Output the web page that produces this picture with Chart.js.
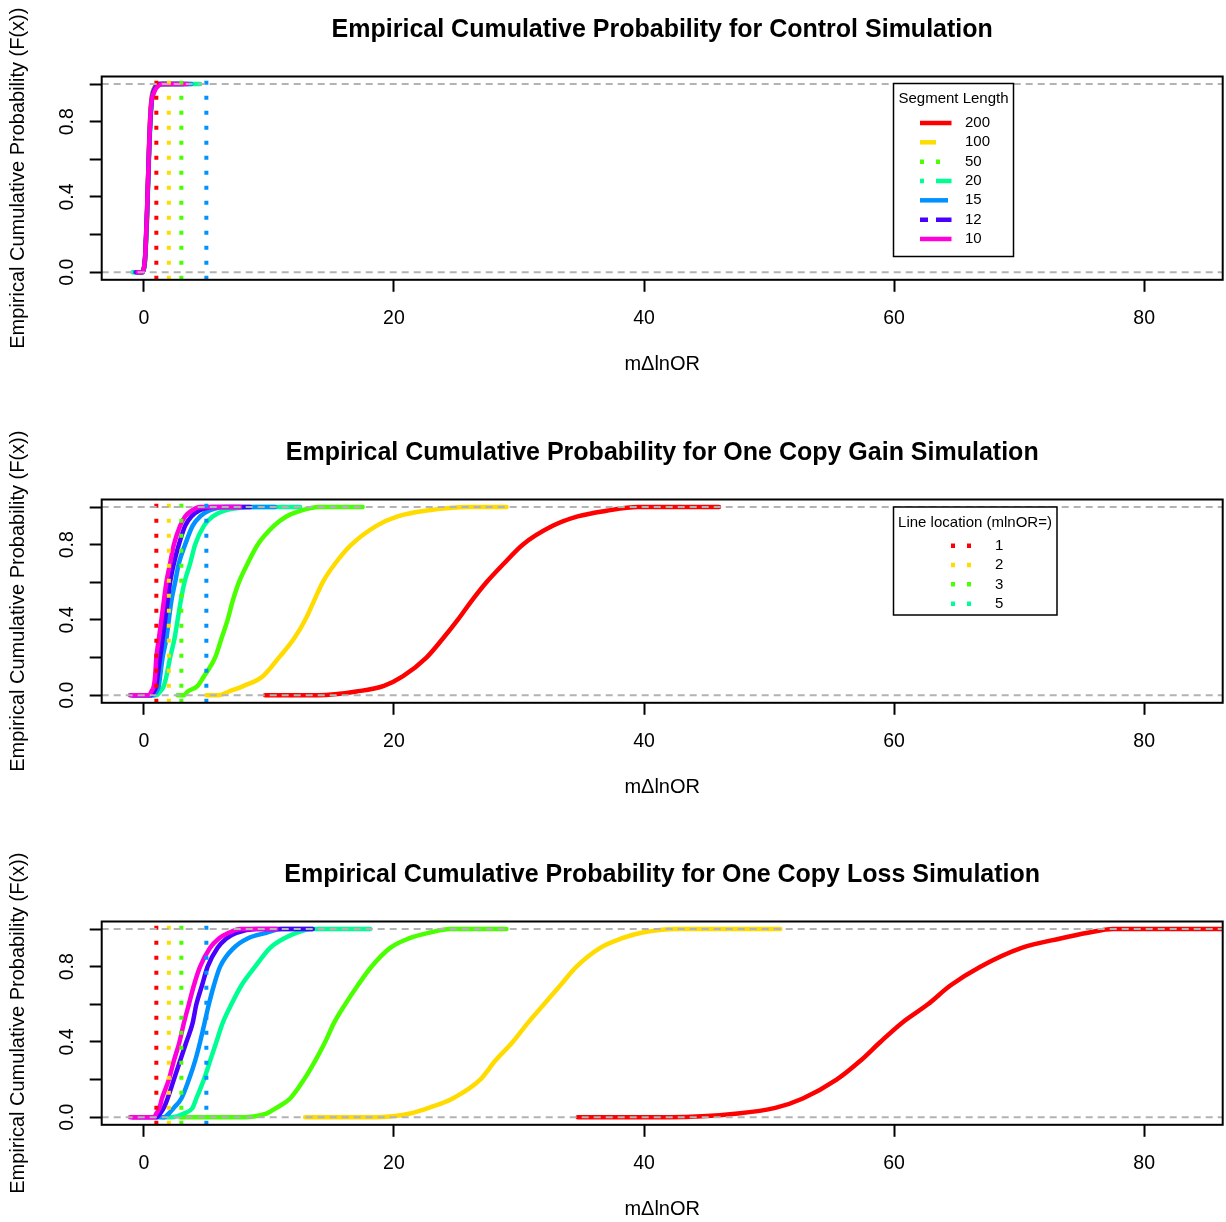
<!DOCTYPE html>
<html><head><meta charset="utf-8">
<script src="https://cdn.jsdelivr.net/npm/chart.js@4.4.0/dist/chart.umd.min.js"></script>
<style>
html,body{margin:0;padding:0;background:#fff;overflow:hidden;width:1226px;height:1222px;}
.panel{position:absolute;left:0;width:1226px;height:377px;}
canvas{display:block;}
</style></head><body>
<div class="panel" style="top:0px"><canvas id="c0" width="1226" height="377"></canvas></div>
<div class="panel" style="top:423px"><canvas id="c1" width="1226" height="377"></canvas></div>
<div class="panel" style="top:845px"><canvas id="c2" width="1226" height="377"></canvas></div>
<script>
// ---------- data ----------
const panelTitles = [
  'Empirical Cumulative Probability for Control Simulation',
  'Empirical Cumulative Probability for One Copy Gain Simulation',
  'Empirical Cumulative Probability for One Copy Loss Simulation'
];
const xAxisTitle = 'mΔlnOR';
const yAxisTitle = 'Empirical Cumulative Probability (F(x))';
const segLengths = ['200', '100', '50', '20', '15', '12', '10'];
const lineLocations = [1, 2, 3, 5];
const lineLocationLabels = ['1', '2', '3', '5'];
const xTicks = [0, 20, 40, 60, 80];
const yTicks = [0, 0.2, 0.4, 0.6, 0.8, 1];
const yTickLabelValues = [0, 0.4, 0.8];
const yTickLabelTexts = ['0.0', '0.4', '0.8'];
const hLineValues = [0, 1];
// cumulative probability levels (first = left tail start, last = right tail end)
const probLevels = [0, 0, 0.02, 0.05, 0.1, 0.2, 0.3, 0.4, 0.5, 0.6, 0.7, 0.8, 0.9, 0.95, 0.98, 1, 1];

// Control simulation (x values at probLevels)
const control_200 = [-0.3, -0.15, 0.0, 0.08, 0.13, 0.2, 0.26, 0.3, 0.34, 0.38, 0.43, 0.49, 0.58, 0.68, 0.85, 1.1, 2.0];
const control_100 = [-0.4, -0.15, 0.0, 0.07, 0.12, 0.19, 0.25, 0.3, 0.34, 0.39, 0.44, 0.5, 0.6, 0.7, 0.88, 1.2, 2.4];
const control_50  = [-0.5, -0.12, 0.02, 0.08, 0.13, 0.2, 0.26, 0.31, 0.35, 0.4, 0.45, 0.51, 0.61, 0.72, 0.9, 1.25, 3.0];
const control_20  = [-0.9, -0.1, 0.01, 0.08, 0.13, 0.2, 0.26, 0.31, 0.36, 0.41, 0.46, 0.53, 0.63, 0.75, 0.95, 1.35, 4.5];
const control_15  = [-0.7, -0.12, 0.0, 0.07, 0.12, 0.19, 0.25, 0.3, 0.35, 0.4, 0.45, 0.52, 0.62, 0.74, 0.92, 1.3, 3.8];
const control_12  = [-0.6, -0.13, 0.0, 0.06, 0.12, 0.18, 0.24, 0.29, 0.34, 0.39, 0.44, 0.51, 0.61, 0.73, 0.9, 1.3, 3.2];
const control_10  = [-0.5, -0.1, 0.0, 0.06, 0.12, 0.18, 0.24, 0.29, 0.34, 0.39, 0.44, 0.5, 0.6, 0.78, 1.0, 1.5, 3.5];

// One copy gain simulation
const gain_200 = [9.7, 14.0, 17.0, 19.2, 20.7, 22.6, 23.9, 25.1, 26.2, 27.4, 28.8, 30.3, 32.7, 34.7, 37.0, 39.5, 46.0];
const gain_100 = [5.0, 6.0, 6.8, 8.0, 9.5, 10.8, 12.0, 12.9, 13.6, 14.3, 15.3, 16.6, 18.6, 20.3, 22.5, 26.0, 29.0];
const gain_50  = [2.7, 3.2, 3.5, 4.3, 4.8, 5.7, 6.2, 6.7, 7.1, 7.6, 8.3, 9.1, 10.4, 11.4, 12.5, 14.0, 17.5];
const gain_20  = [-1.1, 1.0, 1.3, 1.6, 1.8, 2.1, 2.45, 2.7, 2.95, 3.25, 3.7, 4.1, 4.8, 5.5, 6.4, 9.0, 12.5];
const gain_15  = [-0.8, 0.8, 1.0, 1.2, 1.3, 1.5, 1.8, 2.0, 2.2, 2.5, 2.8, 3.3, 3.9, 4.5, 5.2, 6.5, 10.5];
const gain_12  = [-0.9, 0.6, 0.8, 1.0, 1.1, 1.3, 1.5, 1.7, 1.9, 2.1, 2.4, 2.8, 3.3, 3.8, 4.4, 5.5, 8.5];
const gain_10  = [-1.1, 0.4, 0.6, 0.8, 0.9, 1.0, 1.2, 1.4, 1.6, 1.8, 2.1, 2.4, 2.9, 3.3, 3.8, 4.5, 7.7];

// One copy loss simulation
const loss_200 = [34.7, 42.0, 47.5, 50.5, 52.7, 55.4, 57.3, 58.9, 60.6, 62.7, 64.5, 66.9, 70.2, 73.3, 75.5, 77.5, 86.3];
const loss_100 = [12.9, 18.5, 21.3, 22.8, 24.7, 26.9, 28.1, 29.5, 30.7, 32.0, 33.3, 34.6, 36.5, 38.2, 39.8, 42.5, 50.9];
const loss_50  = [2.9, 7.5, 9.8, 10.6, 11.7, 12.8, 13.7, 14.5, 15.2, 16.1, 17.1, 18.2, 19.7, 21.2, 22.8, 24.5, 29.0];
const loss_20  = [1.5, 2.2, 3.2, 3.9, 4.2, 4.8, 5.3, 5.8, 6.3, 7.0, 7.8, 8.9, 10.1, 11.2, 12.2, 13.5, 18.1];
const loss_15  = [1.0, 1.6, 2.0, 2.4, 3.0, 3.6, 4.1, 4.5, 4.85, 5.2, 5.6, 6.1, 7.2, 8.3, 9.8, 11.0, 13.5];
const loss_12  = [-0.9, 1.0, 1.3, 1.6, 1.9, 2.4, 2.9, 3.4, 3.9, 4.2, 4.65, 5.1, 5.9, 6.6, 7.4, 9.0, 13.5];
const loss_10  = [-1.1, 0.8, 1.0, 1.25, 1.45, 2.0, 2.4, 2.85, 3.2, 3.6, 4.0, 4.5, 5.3, 6.0, 6.8, 7.7, 10.6];

const controlSeries = [control_200, control_100, control_50, control_20, control_15, control_12, control_10];
const gainSeries = [gain_200, gain_100, gain_50, gain_20, gain_15, gain_12, gain_10];
const lossSeries = [loss_200, loss_100, loss_50, loss_20, loss_15, loss_12, loss_10];

// ---------- styles ----------
const seriesColors = ['#FF0000', '#FFDB00', '#49FF00', '#00FF92', '#0092FF', '#4900FF', '#FF00DB'];
const seriesDash = [[], [16, 16], [4, 12], [4, 12, 16, 12], [28, 12], [8, 8, 24, 8], []];
const vLineColors = ['#FF0000', '#FFDB00', '#49FF00', '#0092FF'];
const vLegendColors = ['#FF0000', '#FFDB00', '#49FF00', '#00FF92'];
const FONT = '"Liberation Sans", Arial, Helvetica, sans-serif';
const X_MIN = -3.37, X_MAX = 86.28, Y_MIN = -0.04, Y_MAX = 1.04;

Chart.defaults.font.family = FONT;
Chart.defaults.color = '#000';

function drawSegLegend(ctx) {
  const L = 893.5, T = 83.5, R = 1013.5, B = 256.5;
  ctx.save();
  ctx.fillStyle = '#fff'; ctx.fillRect(L, T, R - L, B - T);
  ctx.strokeStyle = '#000'; ctx.lineWidth = 1.5; ctx.strokeRect(L, T, R - L, B - T);
  ctx.font = '15px ' + FONT; ctx.fillStyle = '#000';
  ctx.textAlign = 'center'; ctx.textBaseline = 'middle';
  ctx.fillText('Segment Length', 953.5, 99);
  segLengths.forEach((s, i) => {
    const y = 123 + i * 19.33;
    ctx.setLineDash(seriesDash[i]); ctx.lineCap = 'butt';
    ctx.strokeStyle = seriesColors[i]; ctx.lineWidth = 4.5;
    ctx.beginPath(); ctx.moveTo(920, y); ctx.lineTo(951.5, y); ctx.stroke();
    ctx.setLineDash([]);
    ctx.textAlign = 'left'; ctx.fillStyle = '#000';
    ctx.fillText(s, 965, y);
  });
  ctx.restore();
}
function drawLocLegend(ctx) {
  const L = 893.5, T = 84, R = 1057, B = 192;
  ctx.save();
  ctx.fillStyle = '#fff'; ctx.fillRect(L, T, R - L, B - T);
  ctx.strokeStyle = '#000'; ctx.lineWidth = 1.5; ctx.strokeRect(L, T, R - L, B - T);
  ctx.font = '15px ' + FONT; ctx.fillStyle = '#000';
  ctx.textAlign = 'center'; ctx.textBaseline = 'middle';
  ctx.fillText('Line location (mlnOR=)', 975, 99.7);
  lineLocationLabels.forEach((s, i) => {
    const y = 122.7 + i * 19.33;
    ctx.setLineDash([4, 12]); ctx.lineCap = 'butt';
    ctx.strokeStyle = vLegendColors[i]; ctx.lineWidth = 4.5;
    ctx.beginPath(); ctx.moveTo(951, y); ctx.lineTo(983, y); ctx.stroke();
    ctx.setLineDash([]);
    ctx.textAlign = 'left'; ctx.fillStyle = '#000';
    ctx.fillText(s, 995, y);
  });
  ctx.restore();
}

const framePlugin = {
  id: 'frame',
  afterDraw(chart, args, opts) {
    const ctx = chart.ctx, a = chart.chartArea;
    ctx.save();
    ctx.strokeStyle = '#000'; ctx.lineWidth = 2;
    ctx.strokeRect(a.left, a.top, a.right - a.left, a.bottom - a.top);
    // rotated y tick labels
    const ys = chart.scales.y;
    ctx.font = '19.5px ' + FONT; ctx.fillStyle = '#000';
    ctx.textAlign = 'center'; ctx.textBaseline = 'middle';
    yTickLabelValues.forEach((v, i) => {
      const py = ys.getPixelForValue(v);
      ctx.save(); ctx.translate(68, py); ctx.rotate(-Math.PI / 2);
      ctx.fillText(yTickLabelTexts[i], 0, 0); ctx.restore();
    });
    ctx.restore();
    if (opts.legend === 'seg') drawSegLegend(ctx);
    if (opts.legend === 'loc') drawLocLegend(ctx);
  }
};

function makeChart(id, title, seriesList, legendKind) {
  const datasets = [];
  hLineValues.forEach(v => datasets.push({
    data: [{x: X_MIN, y: v}, {x: X_MAX, y: v}],
    borderColor: '#B3B3B3', borderWidth: 2, borderDash: [7, 5], pointRadius: 0, order: 0
  }));
  lineLocations.forEach((v, i) => datasets.push({
    data: [{x: v, y: Y_MIN}, {x: v, y: Y_MAX}],
    borderColor: vLineColors[i], borderWidth: 4, borderDash: [4, 11], pointRadius: 0, order: 1
  }));
  seriesList.forEach((xs, i) => datasets.push({
    label: segLengths[i],
    data: xs.map((x, k) => ({x: x, y: probLevels[k]})),
    borderColor: seriesColors[i], borderWidth: 4.5, pointRadius: 0,
    cubicInterpolationMode: 'monotone', borderJoinStyle: 'round', borderCapStyle: 'round',
    order: 2 + (seriesList.length - 1 - i)
  }));
  return new Chart(document.getElementById(id), {
    type: 'line',
    data: {datasets},
    plugins: [framePlugin],
    options: {
      responsive: false, animation: false, devicePixelRatio: 1,
      layout: {padding: {left: 0, right: 3.3, top: 0, bottom: 0}},
      plugins: {
        legend: {display: false}, tooltip: {enabled: false},
        title: {display: true, text: title, fullSize: false, color: '#000',
          font: {size: 25, weight: 'bold', family: FONT, lineHeight: 1.2},
          padding: {top: 15.5, bottom: 31}},
        frame: {legend: legendKind}
      },
      scales: {
        x: {
          type: 'linear', min: X_MIN, max: X_MAX,
          afterBuildTicks: s => { s.ticks = xTicks.map(v => ({value: v})); },
          afterFit: s => { s.height = 97.2; },
          ticks: {font: {size: 19.5}, color: '#000', padding: 15, maxRotation: 0, minRotation: 0, autoSkip: false,
            callback: v => String(v)},
          grid: {drawOnChartArea: false, drawTicks: true, tickLength: 12, tickWidth: 2, tickColor: '#000', color: '#000'},
          border: {display: false},
          title: {display: true, text: xAxisTitle, color: '#000', font: {size: 20, lineHeight: 1.2}, padding: {top: 0, bottom: 1}}
        },
        y: {
          type: 'linear', min: Y_MIN, max: Y_MAX,
          afterBuildTicks: s => { s.ticks = yTicks.map(v => ({value: v})); },
          afterFit: s => { s.width = 101.7; },
          ticks: {display: false},
          grid: {drawOnChartArea: false, drawTicks: true, tickLength: 12, tickWidth: 2, tickColor: '#000', color: '#000'},
          border: {display: false},
          title: {display: true, text: yAxisTitle, color: '#000', font: {size: 20, lineHeight: 1.2}, padding: {top: 6, bottom: 0}}
        }
      }
    }
  });
}

makeChart('c0', panelTitles[0], controlSeries, 'seg');
makeChart('c1', panelTitles[1], gainSeries, 'loc');
makeChart('c2', panelTitles[2], lossSeries, null);
</script>
</body></html>
